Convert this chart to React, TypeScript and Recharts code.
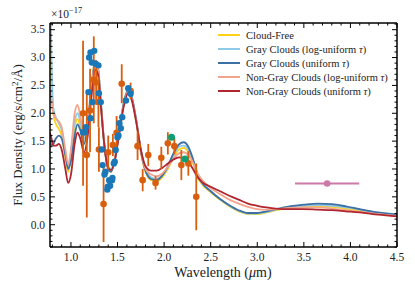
import React from 'react';
import { ComposedChart, Line, Scatter, XAxis, YAxis, ErrorBar, Legend, Customized } from 'recharts';

const wavelength = [0.775, 0.79, 0.81, 0.84, 0.87, 0.9, 0.94, 0.97, 1.0, 1.04, 1.07, 1.1, 1.14, 1.18, 1.22, 1.26, 1.29, 1.32, 1.36, 1.4, 1.43, 1.47, 1.52, 1.57, 1.61, 1.65, 1.7, 1.75, 1.8, 1.86, 1.92, 1.98, 2.04, 2.1, 2.16, 2.21, 2.26, 2.31, 2.36, 2.41, 2.5, 2.6, 2.7, 2.8, 2.9, 3.0, 3.1, 3.2, 3.35, 3.5, 3.65, 3.8, 3.95, 4.1, 4.3, 4.5];

const cloudFree = [3.3, 2.6, 2.0, 1.8, 1.72, 1.6, 1.2, 0.95, 1.2, 1.75, 1.9, 1.75, 1.45, 1.8, 2.5, 2.92, 2.8, 2.2, 1.4, 1.0, 0.95, 1.15, 1.7, 2.2, 2.4, 2.3, 1.85, 1.3, 0.95, 0.8, 0.78, 0.85, 1.0, 1.2, 1.35, 1.38, 1.3, 1.1, 0.85, 0.72, 0.58, 0.45, 0.33, 0.24, 0.19, 0.19, 0.22, 0.26, 0.3, 0.32, 0.33, 0.32, 0.29, 0.25, 0.2, 0.17];
const grayLogUniform = [4.4, 3.1, 2.1, 1.92, 1.82, 1.7, 1.3, 1.02, 1.3, 1.85, 2.0, 1.85, 1.55, 1.85, 2.5, 2.95, 2.85, 2.25, 1.45, 1.05, 1.0, 1.2, 1.75, 2.22, 2.42, 2.32, 1.9, 1.35, 1.0, 0.85, 0.82, 0.88, 1.03, 1.24, 1.4, 1.42, 1.35, 1.15, 0.88, 0.74, 0.6, 0.46, 0.34, 0.25, 0.2, 0.2, 0.23, 0.27, 0.31, 0.34, 0.35, 0.34, 0.31, 0.27, 0.21, 0.18];
const grayUniform = [1.5, 1.42, 1.45, 1.55, 1.6, 1.55, 1.25, 1.0, 1.15, 1.6, 1.8, 1.7, 1.45, 1.8, 2.45, 2.9, 2.8, 2.2, 1.4, 1.0, 0.95, 1.15, 1.7, 2.2, 2.4, 2.3, 1.88, 1.32, 0.97, 0.82, 0.8, 0.88, 1.05, 1.28, 1.44, 1.48, 1.4, 1.18, 0.9, 0.75, 0.6, 0.46, 0.35, 0.26, 0.21, 0.21, 0.24, 0.28, 0.33, 0.36, 0.38, 0.37, 0.33, 0.28, 0.22, 0.18];
const nonGrayLogUniform = [2.4, 2.25, 2.0, 1.9, 1.85, 1.75, 1.35, 1.08, 1.35, 2.0, 2.15, 1.95, 1.6, 1.85, 2.45, 2.88, 2.8, 2.2, 1.42, 1.03, 0.98, 1.18, 1.7, 2.18, 2.38, 2.28, 1.87, 1.35, 1.0, 0.9, 0.87, 0.92, 1.04, 1.18, 1.28, 1.3, 1.25, 1.12, 0.92, 0.8, 0.66, 0.55, 0.45, 0.38, 0.32, 0.28, 0.27, 0.28, 0.3, 0.31, 0.31, 0.29, 0.26, 0.23, 0.19, 0.16];
const nonGrayUniform = [1.65, 1.55, 1.42, 1.42, 1.45, 1.35, 1.0, 0.75, 0.9, 1.45, 1.65, 1.55, 1.3, 1.6, 2.3, 2.78, 2.7, 2.15, 1.4, 1.02, 0.98, 1.15, 1.65, 2.15, 2.35, 2.25, 1.85, 1.35, 1.05, 0.97, 0.97, 1.02, 1.1, 1.17, 1.21, 1.2, 1.13, 1.0, 0.85, 0.76, 0.68, 0.6, 0.52, 0.45, 0.38, 0.34, 0.31, 0.29, 0.28, 0.28, 0.27, 0.26, 0.24, 0.22, 0.18, 0.15];

const orangeWl = [1.13, 1.17, 1.205, 1.245, 1.27, 1.295, 1.3, 1.35, 1.4, 1.45, 1.49, 1.545, 1.64, 1.715, 1.77, 1.83, 1.908, 1.97, 2.04, 2.11, 2.185, 2.26, 2.345];
const orangeFlux = [2.0, 1.25, 2.05, 2.6, 2.55, 2.2, 1.35, 0.37, 1.3, 1.43, 1.65, 2.53, 2.4, 1.41, 0.8, 1.25, 0.75, 1.2, 1.46, 1.41, 1.07, 1.1, 0.5];
const orangeErr = [1.3, 1.12, 0.75, 0.78, 0.4, 0.45, 0.4, 0.68, 0.3, 0.2, 0.3, 0.35, 0.15, 0.25, 0.2, 0.2, 0.12, 0.2, 0.2, 0.15, 0.27, 0.22, 0.6];

const blueWl = [1.13, 1.15, 1.16, 1.188, 1.195, 1.21, 1.21, 1.224, 1.23, 1.25, 1.266, 1.295, 1.3, 1.32, 1.33, 1.34, 1.36, 1.37, 1.39, 1.395, 1.41, 1.42, 1.44, 1.445, 1.46, 1.47, 1.48, 1.5, 1.51, 1.52, 1.535, 1.55, 1.59, 1.615, 1.64];
const blueFlux = [1.66, 1.66, 1.75, 2.38, 3.0, 3.09, 1.91, 2.91, 2.2, 3.12, 2.89, 2.86, 2.36, 2.2, 1.35, 1.07, 0.9, 0.95, 0.63, 0.68, 0.8, 0.7, 0.8, 0.84, 1.1, 1.13, 1.34, 1.57, 1.6, 1.82, 1.73, 1.93, 2.23, 2.45, 2.35];

const greenWl = [2.08, 2.225];
const greenFlux = [1.57, 1.18];
const greenErr = [0.05, 0.05];

const pinkWl = [3.75];
const pinkFlux = [0.74];
const pinkXErr = [0.345];

const majorXLabels = ['1.0', '1.5', '2.0', '2.5', '3.0', '3.5', '4.0', '4.5'];
const majorYLabels = ['0.0', '0.5', '1.0', '1.5', '2.0', '2.5', '3.0', '3.5'];

const seriesNames = [
  'Cloud-Free',
  'Gray Clouds (log-uniform τ)',
  'Gray Clouds (uniform τ)',
  'Non-Gray Clouds (log-uniform τ)',
  'Non-Gray Clouds (uniform τ)',
];
const seriesColors = ['#ffd21a', '#8fcbe8', '#3e6fa3', '#f2a48c', '#b0262e'];
const seriesKeys = ['cf', 'glu', 'gu', 'nglu', 'ngu'];

const modelRows = wavelength.map((w, i) => ({
  x: w,
  cf: cloudFree[i],
  glu: grayLogUniform[i],
  gu: grayUniform[i],
  nglu: nonGrayLogUniform[i],
  ngu: nonGrayUniform[i],
}));
const orangeData = orangeWl.map((w, i) => ({ x: w, y: orangeFlux[i], err: orangeErr[i] }));
const blueData = blueWl.map((w, i) => ({ x: w, y: blueFlux[i] }));
const greenData = greenWl.map((w, i) => ({ x: w, y: greenFlux[i], err: greenErr[i] }));
const pinkData = pinkWl.map((w, i) => ({ x: w, y: pinkFlux[i], xerr: pinkXErr[i] }));

const xTicks: number[] = [];
for (let i = 8; i <= 45; i++) xTicks.push(i / 10);
const yTicks: number[] = [];
for (let i = -4; i <= 36; i++) yTicks.push(i / 10);

const FONT = "'Liberation Serif', 'Times New Roman', serif";
const W = 415;
const H = 291;
// plot area: left 50, right 397, top 23, bottom 247
const AX = { bottomH: 30, topH: 5, leftW: 40, rightW: 5 };
const M = { top: 23 - AX.topH, right: 18 - AX.rightW, bottom: 44 - AX.bottomH, left: 50 - AX.leftW };

const isMajor = (v: number) => Math.abs(v * 2 - Math.round(v * 2)) < 1e-6;
const fmt = (v: number, labels: string[]) => {
  const s = (Math.round(v * 10) / 10).toFixed(1);
  return labels.includes(s) ? s : null;
};

const BottomTick = (p: any) => {
  const v = p.payload.value;
  const major = isMajor(v);
  const lab = major ? fmt(v, majorXLabels) : null;
  return (
    <g>
      <line x1={p.x} x2={p.x} y1={p.y} y2={p.y - (major ? 5 : 2.5)} stroke="#000" strokeWidth={1} />
      {lab && (
        <text x={p.x} y={p.y + 14} textAnchor="middle" fontSize={11.5} fontFamily={FONT} fill="#222">{lab}</text>
      )}
    </g>
  );
};
const TopTick = (p: any) => {
  const v = p.payload.value;
  const major = isMajor(v);
  return <line x1={p.x} x2={p.x} y1={p.y} y2={p.y + (major ? 5 : 2.5)} stroke="#000" strokeWidth={1} />;
};
const LeftTick = (p: any) => {
  const v = p.payload.value;
  const major = isMajor(v);
  const lab = major ? fmt(v, majorYLabels) : null;
  return (
    <g>
      <line x1={p.x} x2={p.x + (major ? 5 : 2.5)} y1={p.y} y2={p.y} stroke="#000" strokeWidth={1} />
      {lab && (
        <text x={p.x - 5} y={p.y + 3.8} textAnchor="end" fontSize={11.5} fontFamily={FONT} fill="#222">{lab}</text>
      )}
    </g>
  );
};
const RightTick = (p: any) => {
  const v = p.payload.value;
  const major = isMajor(v);
  return <line x1={p.x} x2={p.x - (major ? 5 : 2.5)} y1={p.y} y2={p.y} stroke="#000" strokeWidth={1} />;
};

const Dot = (color: string, r: number) => (p: any) => <circle cx={p.cx} cy={p.cy} r={r} fill={color} />;

const renderLegend = () => (
  <div style={{ fontFamily: FONT, fontSize: 10.5, color: '#222' }}>
    {seriesNames.map((n, i) => {
      const idx = n.lastIndexOf('τ');
      return (
        <div key={n} style={{ display: 'flex', alignItems: 'center', height: 14, whiteSpace: 'nowrap' }}>
          <svg width={22} height={4} style={{ flex: 'none' }}>
            <line x1={0} x2={22} y1={2} y2={2} stroke={seriesColors[i]} strokeWidth={2} />
          </svg>
          <span style={{ marginLeft: 6 }}>
            {idx >= 0 ? (
              <>
                {n.slice(0, idx)}
                <i>τ</i>
                {n.slice(idx + 1)}
              </>
            ) : (
              n
            )}
          </span>
        </div>
      );
    })}
  </div>
);

const Overlay = () => (
  <g fontFamily={FONT} fill="#222">
    <text x={51} y={18} fontSize={11.5}>
      ×10
      <tspan dy={-5} fontSize={8.5}>−17</tspan>
    </text>
    <text x={223} y={277} textAnchor="middle" fontSize={14}>
      Wavelength (<tspan fontStyle="italic">μ</tspan>m)
    </text>
    <text transform={`translate(22, 135) rotate(-90)`} textAnchor="middle" fontSize={13}>
      Flux Density (erg/s/cm<tspan dy={-4} fontSize={9}>2</tspan><tspan dy={4}>/Å)</tspan>
    </text>
  </g>
);

export default function App() {
  const axisLine = { stroke: '#000', strokeWidth: 1.5 };
  return (
    <div style={{ position: 'absolute', left: 0, top: 0, width: W, height: H, background: '#fff' }}>
      <ComposedChart width={W} height={H} data={modelRows} margin={M}>
        <XAxis
          dataKey="x"
          type="number"
          domain={[0.775, 4.5]}
          allowDataOverflow
          ticks={xTicks}
          interval={0}
          height={AX.bottomH}
          tickSize={0}
          tickMargin={0}
          tickLine={false}
          axisLine={axisLine}
          tick={BottomTick}
        />
        <XAxis
          xAxisId="top"
          orientation="top"
          dataKey="x"
          type="number"
          domain={[0.775, 4.5]}
          allowDataOverflow
          ticks={xTicks}
          interval={0}
          height={AX.topH}
          tickSize={0}
          tickMargin={0}
          tickLine={false}
          axisLine={axisLine}
          tick={TopTick}
        />
        <YAxis
          type="number"
          domain={[-0.4, 3.62]}
          allowDataOverflow
          ticks={yTicks}
          interval={0}
          width={AX.leftW}
          tickSize={0}
          tickMargin={0}
          tickLine={false}
          axisLine={axisLine}
          tick={LeftTick}
        />
        <YAxis
          yAxisId="right"
          orientation="right"
          type="number"
          domain={[-0.4, 3.62]}
          allowDataOverflow
          ticks={yTicks}
          interval={0}
          width={AX.rightW}
          tickSize={0}
          tickMargin={0}
          tickLine={false}
          axisLine={axisLine}
          tick={RightTick}
        />
        {seriesKeys.map((k, i) => (
          <Line
            key={k}
            dataKey={k}
            name={seriesNames[i]}
            type="monotone"
            stroke={seriesColors[i]}
            strokeWidth={1.8}
            dot={false}
            activeDot={false}
            isAnimationActive={false}
          />
        ))}
        <Scatter data={orangeData} dataKey="y" fill="#d95f0e" shape={Dot('#d95f0e', 3.3)} isAnimationActive={false}>
          <ErrorBar dataKey="err" direction="y" width={0} stroke="#d95f0e" strokeWidth={1.8} />
        </Scatter>
        <Scatter data={blueData} dataKey="y" fill="#1f77b4" shape={Dot('#1a78b8', 3.2)} isAnimationActive={false} />
        <Scatter data={greenData} dataKey="y" fill="#0e9e74" shape={Dot('#0e9e74', 3.5)} isAnimationActive={false}>
          <ErrorBar dataKey="err" direction="y" width={0} stroke="#0e9e74" strokeWidth={1.5} />
        </Scatter>
        <Scatter data={pinkData} dataKey="y" fill="#cc79a7" shape={Dot('#cc79a7', 3.3)} isAnimationActive={false}>
          <ErrorBar dataKey="xerr" direction="x" width={0} stroke="#cc79a7" strokeWidth={1.8} />
        </Scatter>
        <Legend
          layout="vertical"
          align="center"
          verticalAlign="middle"
          content={renderLegend}
          wrapperStyle={{ left: 218, top: 28, width: 190, height: 72 }}
        />
        <Customized component={Overlay} />
      </ComposedChart>
    </div>
  );
}
